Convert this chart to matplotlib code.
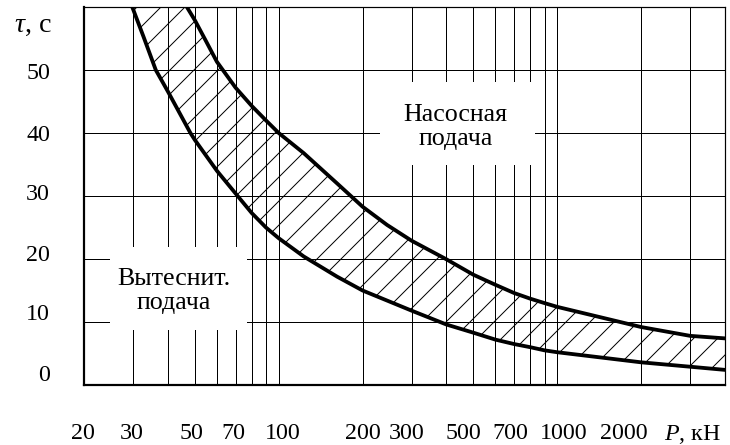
import numpy as np
import matplotlib
matplotlib.use("Agg")
import matplotlib.pyplot as plt
from matplotlib.ticker import FixedLocator, NullFormatter
from matplotlib.patches import Rectangle
from matplotlib.transforms import ScaledTranslation

# --- data ---
# lower boundary of the hatched band (P in kN, tau in s)
p_low = [29.8, 32.7, 36.2, 40, 48.2, 50, 60, 70, 80, 90, 100, 123, 162, 200,
         245, 300, 400, 500, 600, 700, 800, 900, 1000, 2000, 3000, 4000]
tau_low = [60, 55.3, 50.0, 46.6, 40.0, 38.9, 34.0, 30.4, 27.3, 25.0, 23.3, 20.4, 17.2, 15.0,
           13.4, 11.8, 9.6, 8.3, 7.2, 6.5, 6.0, 5.5, 5.2, 3.6, 2.9, 2.4]

# upper boundary
p_up = [46.8, 50, 54.5, 60, 70, 80, 90, 100, 123, 162, 200, 245, 300, 400, 500,
        600, 700, 800, 900, 1000, 2000, 3000, 4000]
tau_up = [60, 57.9, 54.8, 51.3, 47.2, 44.3, 42.0, 40.0, 36.8, 32.0, 28.3, 25.4, 22.9, 19.95,
          17.5, 15.9, 14.6, 13.7, 13.0, 12.4, 9.2, 7.8, 7.4]

x_ticks = [20, 30, 50, 70, 100, 200, 300, 500, 700, 1000, 2000, 3000]
x_labels = ["20", "30", "50", "70", "100", "200", "300", "500", "700", "1000", "2000", "$P$, кН"]
x_grid = [30, 40, 50, 60, 70, 80, 90, 100, 200, 300, 400, 500, 600, 700, 800, 900,
          1000, 2000, 3000]
y_ticks = [0, 10, 20, 30, 40, 50]

# small hand-placement shifts of the tick labels in the original (pixels)
x_label_shift = [-1, -1, -3, -2, 4, 0, -5, -10, -4, 6, -17, 2]
y_label_shift = [12, 10, 6, 4, 0, -1]

plt.rcParams.update({
    "font.family": ["Liberation Serif", "DejaVu Serif"],
    "font.size": 24,
    "mathtext.fontset": "custom",
    "mathtext.rm": "Liberation Serif",
    "mathtext.it": "Liberation Serif:italic",
})

fig = plt.figure(figsize=(730 / 72, 445 / 72), dpi=72)
ax = fig.add_axes([84 / 730, 60 / 445, 641 / 730, 378 / 445])

ax.set_xscale("log")
ax.set_xlim(20, 4000)
ax.set_ylim(0, 60)

# grid
ax.xaxis.set_major_locator(FixedLocator(x_ticks))
ax.xaxis.set_minor_locator(FixedLocator(x_grid))
ax.xaxis.set_minor_formatter(NullFormatter())
ax.xaxis.remove_overlapping_locs = False
ax.set_xticklabels(x_labels)
ax.set_yticks(y_ticks)
ax.tick_params(axis="both", which="both", length=0)
ax.tick_params(axis="x", pad=38)
ax.tick_params(axis="y", pad=34)
ax.grid(False, which="major", axis="x")
ax.grid(True, which="minor", axis="x", color="black", lw=1.0)
ax.grid(True, which="major", axis="y", color="black", lw=1.0)
ax.set_axisbelow(True)

for lbl, dx in zip(ax.get_xticklabels(), x_label_shift):
    lbl.set_transform(lbl.get_transform() + ScaledTranslation(dx / 72, 0, fig.dpi_scale_trans))
for lbl, dy in zip(ax.get_yticklabels(), y_label_shift):
    lbl.set_transform(lbl.get_transform() + ScaledTranslation(0, dy / 72, fig.dpi_scale_trans))

for side in ["left", "bottom"]:
    ax.spines[side].set_linewidth(2.2)
for side in ["top", "right"]:
    ax.spines[side].set_linewidth(1.2)

# hatched band
band_x = np.concatenate([p_low, p_up[::-1]])
band_y = np.concatenate([tau_low, tau_up[::-1]])
ax.fill(band_x, band_y, facecolor="none", edgecolor="black", hatch="/", lw=0, zorder=2)
ax.plot(p_low, tau_low, color="black", lw=3.8, zorder=3, solid_joinstyle="round")
ax.plot(p_up, tau_up, color="black", lw=3.8, zorder=3, solid_joinstyle="round")

# label boxes covering the grid
ax.add_patch(Rectangle((0.462, 0.582), 0.242, 0.220, transform=ax.transAxes,
                       facecolor="white", edgecolor="none", zorder=1))
ax.text(0.580, 0.683, "Насосная\nподача", transform=ax.transAxes, fontsize=26,
        ha="center", va="center", linespacing=1.15, zorder=4)

ax.add_patch(Rectangle((0.041, 0.146), 0.213, 0.219, transform=ax.transAxes,
                       facecolor="white", edgecolor="none", zorder=1))
ax.text(0.140, 0.249, "Вытеснит.\nподача", transform=ax.transAxes, fontsize=26,
        ha="center", va="center", linespacing=1.15, zorder=4)

# axis title for tau, placed like a tick label
ax.text(-32 / 641, 57, r"$\tau$, с", transform=ax.get_yaxis_transform(),
        fontsize=28, ha="right", va="center")

fig.savefig("out.png", dpi=72)
